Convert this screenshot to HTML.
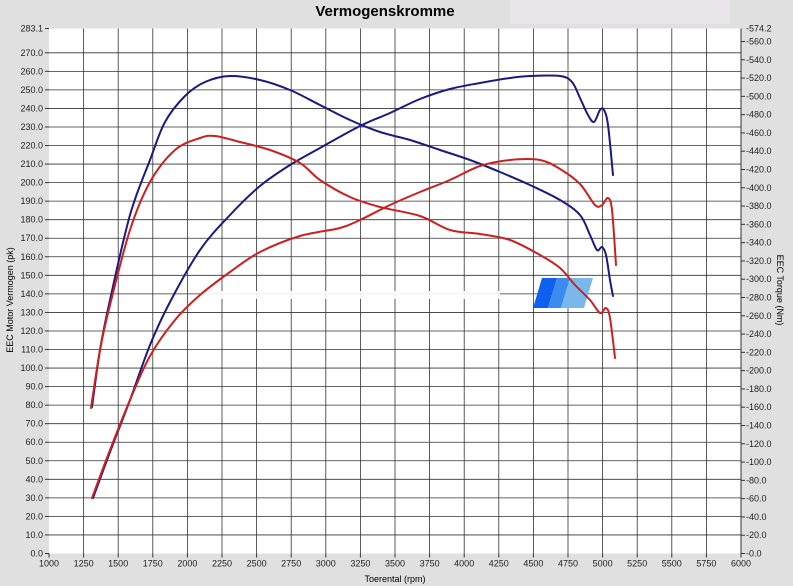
<!DOCTYPE html>
<html><head><meta charset="utf-8"><style>
body{margin:0;background:#e0e0e0;}
svg{display:block;font-family:"Liberation Sans",Arial,sans-serif;}
</style></head><body>
<svg id="s" width="793" height="586" xmlns="http://www.w3.org/2000/svg">
<rect x="0" y="0" width="793" height="586" fill="#e0e0e0"/>
<rect x="510" y="0" width="220" height="24" fill="#e8e6e8"/>
<text x="385" y="16" font-size="15" font-weight="bold" text-anchor="middle" fill="#000">Vermogenskromme</text>
<rect x="49" y="28.5" width="692" height="525" fill="#fff"/>
<g id="g"></g>
<text x="395" y="582" font-size="9" text-anchor="middle">Toerental (rpm)</text>
<text transform="translate(13,300) rotate(-90)" font-size="9" text-anchor="middle">EEC Motor Vermogen (pk)</text>
<text transform="translate(777,290) rotate(90)" font-size="9" text-anchor="middle">EEC Torque (Nm)</text>
<rect x="200" y="291" width="300" height="8" fill="#fff" opacity="0.9"/>
<polygon points="542,278 557,278 548,308 533,308" fill="#1060f0"/>
<polygon points="557,278 570,278 561,308 548,308" fill="#3a8cf0"/>
<polygon points="570,278 593,278 584,308 561,308" fill="#7ab8ec"/>
<g fill="none" stroke-width="2" stroke-linejoin="round" stroke-linecap="round">
<path id="bp" stroke="#1a1a80"/>
<path id="bt" stroke="#1a1a80"/>
<path id="rp" stroke="#cc2020"/>
<path id="rt" stroke="#cc2020"/>
</g>
</svg>
<script>
var ns="http://www.w3.org/2000/svg",g=document.getElementById('g');
function el(t,a,txt){var e=document.createElementNS(ns,t);for(var k in a)e.setAttribute(k,a[k]);if(txt)e.textContent=txt;g.appendChild(e);}
var L=49,R=741,T=28.5,B=553.5;
for(var r=1000;r<=6000;r+=250){var x=L+(r-1000)*(R-L)/5000;
 if(r>1000&&r<6000)el('line',{x1:x,y1:T,x2:x,y2:B,stroke:'#333','stroke-width':0.8});
 el('line',{x1:x,y1:B,x2:x,y2:B+4,stroke:'#333'});
 el('text',{x:x,y:B+13,'font-size':9,'text-anchor':'middle',fill:'#222'},String(r));}
function yl(v){return B-v*(B-T)/283.1;}
for(var v=0;v<=270;v+=10){var y=yl(v);
 if(v>0)el('line',{x1:L,y1:y,x2:R,y2:y,stroke:'#333','stroke-width':0.8});
 el('line',{x1:L-4,y1:y,x2:L,y2:y,stroke:'#333'});
 el('text',{x:L-6,y:y+3,'font-size':9,'text-anchor':'end',fill:'#222'},v.toFixed(1));}
el('line',{x1:L-4,y1:T,x2:L,y2:T,stroke:'#333'});
el('text',{x:L-6,y:T+3,'font-size':9,'text-anchor':'end',fill:'#222'},'283.1');
function yr(v){return B-v*(B-T)/574.2;}
for(var v=0;v<=560;v+=20){var y=yr(v);
 el('line',{x1:R,y1:y,x2:R+4,y2:y,stroke:'#333'});
 el('text',{x:R+5,y:y+3,'font-size':9,fill:'#222'},(v==0?'-':'-')+v.toFixed(1));}
el('text',{x:R+5,y:T+3,'font-size':9,fill:'#222'},'-574.2');
el('line',{x1:R,y1:T,x2:R,y2:B,stroke:'#333'});
function P(id,pts){var d='M'+pts[0][0]+','+pts[0][1];
 for(var i=1;i<pts.length;i++){var p0=pts[i-1],p1=pts[i],pm=pts[i-2]||p0,pn=pts[i+1]||p1;
  d+=' C'+(p0[0]+(p1[0]-pm[0])/6)+','+(p0[1]+(p1[1]-pm[1])/6)+' '+(p1[0]-(pn[0]-p0[0])/6)+','+(p1[1]-(pn[1]-p0[1])/6)+' '+p1[0]+','+p1[1];}
 document.getElementById(id).setAttribute('d',d);}
P('bp',[[92,407],[100,350],[110,300],[130,215],[150,160],[165,122],[185,96],[205,82],[230,76],[260,80],[290,90],[320,105],[350,120],[380,132],[410,140],[440,150],[470,160],[500,172],[530,185],[560,200],[580,215],[590,235],[597,250],[602,247],[606,255],[610,280],[613,296]]);
P('bt',[[93,498],[110,452],[130,400],[150,345],[170,302],[200,250],[230,215],[260,186],[290,165],[320,148],[360,126],[390,113],[420,99],[450,89],[480,83],[510,78],[530,76],[560,76],[572,82],[580,98],[588,115],[594,122],[600,110],[604,110],[608,125],[613,175]]);
P('rp',[[91,408],[100,350],[110,305],[130,230],[150,182],[175,150],[200,138],[215,136],[240,142],[270,150],[300,163],[320,180],[350,197],[380,207],[420,216],[450,230],[480,234],[510,240],[540,255],[560,268],[575,285],[590,300],[600,313],[606,308],[610,318],[615,358]]);
P('rt',[[92,498],[110,450],[130,400],[150,356],[175,320],[200,295],[230,272],[260,252],[300,236],[340,228],[360,220],[390,205],[420,192],[450,180],[480,166],[510,160],[540,160],[560,169],[580,184],[595,205],[602,205],[608,198],[612,210],[616,265]]);
</script>
</body></html>
